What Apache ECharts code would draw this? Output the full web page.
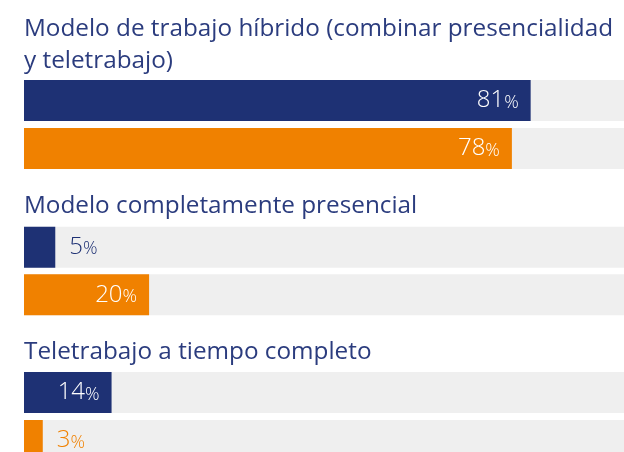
<!DOCTYPE html>
<html>
<head>
<meta charset="utf-8">
<script src="https://cdn.jsdelivr.net/npm/echarts@6/dist/echarts.min.js"></script>
<style>html,body{margin:0;padding:0;background:#fff;}#c{width:624px;height:452px;}</style>
</head>
<body>
<div id="c"></div>
<script>
const groupTitles = [
  'Modelo de trabajo híbrido (combinar presencialidad\ny teletrabajo)',
  'Modelo completamente presencial',
  'Teletrabajo a tiempo completo'
];
const seriesNames = ['Serie A', 'Serie B'];
const seriesA = [81, 5, 14];
const seriesB = [78, 20, 3];

const NAVY = '#1e3174';
const ORANGE = '#f08100';
const TITLE_COLOR = '#2b3c7e';
const FONT = 'Open Sans';

const gridTops = [76.5, 223.5, 368.5];
const gridHeights = [96, 95, 96];
const titleTops = [13, 190, 336];

function labelFor(v, color) {
  const inside = v >= 10;
  return {
    show: true,
    position: inside ? 'insideRight' : 'right',
    distance: inside ? 12 : 14,
    formatter: '{n|{c}}{p|%}',
    rich: {
      n: { fontSize: 24, lineHeight: 24, fontFamily: FONT, fontWeight: 300, color: inside ? '#ffffff' : color, verticalAlign: 'bottom' },
      p: { fontSize: 18, lineHeight: 24, fontFamily: FONT, fontWeight: 300, color: inside ? '#ffffff' : color, verticalAlign: 'bottom', padding: [0, 0, 1, 0] }
    }
  };
}

const grids = [], xAxes = [], yAxes = [], series = [], titles = [];
groupTitles.forEach((t, i) => {
  grids.push({ left: 24, top: gridTops[i], width: 625.5, height: gridHeights[i], containLabel: false, outerBoundsMode: 'none' });
  xAxes.push({ type: 'value', gridIndex: i, min: 0, max: 100, show: false });
  yAxes.push({ type: 'category', gridIndex: i, data: seriesNames, inverse: true, show: false });
  series.push({
    type: 'bar',
    xAxisIndex: i,
    yAxisIndex: i,
    barWidth: 41,
    showBackground: true,
    backgroundStyle: { color: '#efefef' },
    silent: true,
    data: [
      { value: seriesA[i], itemStyle: { color: NAVY }, label: labelFor(seriesA[i], NAVY) },
      { value: seriesB[i], itemStyle: { color: ORANGE }, label: labelFor(seriesB[i], ORANGE) }
    ]
  });
  titles.push({
    text: t,
    left: 24,
    top: titleTops[i],
    padding: 0,
    textStyle: { fontSize: 24.3, lineHeight: 32, fontWeight: 'normal', fontFamily: FONT, color: TITLE_COLOR }
  });
});

const chart = echarts.init(document.getElementById('c'), null, { renderer: 'canvas' });
chart.setOption({
  animation: false,
  backgroundColor: '#ffffff',
  title: titles,
  grid: grids,
  xAxis: xAxes,
  yAxis: yAxes,
  series: series
});
</script>
</body>
</html>
